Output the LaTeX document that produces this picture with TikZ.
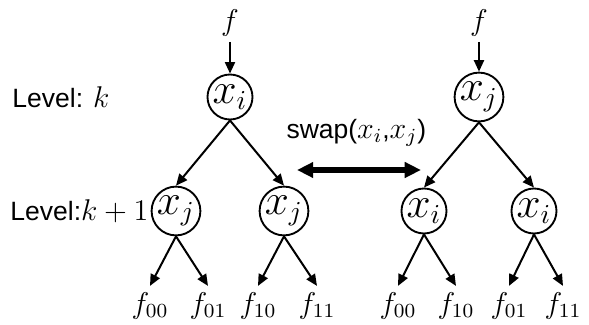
\documentclass[tikz,border=0pt]{standalone}
\usepackage{fontspec}
\setsansfont{Liberation Sans}
\usetikzlibrary{arrows.meta}
\tikzset{
  >={Triangle[length=4.6pt,width=4pt]},
  var/.style={circle,draw,line width=0.75pt,minimum size=18pt,inner sep=0pt,font=\fontsize{16}{19}\selectfont},
  top/.style={inner sep=2pt,font=\large},
  leaf/.style={inner sep=2.5pt,font=\large},
  edge/.style={->,line width=0.8pt},
  lvl/.style={font=\sffamily\fontsize{10.6}{13}\selectfont,anchor=west,inner sep=0pt},
  swaparrow/.style={{Triangle[length=6.5pt,width=6pt]}-{Triangle[length=6.5pt,width=6pt]},line width=2.4pt},
}

\begin{document}
\begin{tikzpicture}[x=0.4pt,y=-0.4pt]
  \useasboundingbox (0,0) rectangle (589,325);
  % levels
  \node[lvl] (lvk) at (12,97) {Level: {\large$k$}};
  \node[lvl] (lvk1) at (10,211) {Level:{\large$k+1$}};
  % left tree
  \begin{scope}[shift={(230,97)}]
    \node[top] (lf) at (0,-74) {$f$};
    \node[var] (lroot) at (0,0) {$x_i$};
    \node[var] (lc1) at (-54,114) {$x_j$};
    \node[var] (lc2) at (54,114) {$x_j$};
    \draw[edge] (lf) -- (lroot);
    \draw[edge] (lroot.south) -- (lc1.north);
    \draw[edge] (lroot.south) -- (lc2.north);
    \foreach \lx/\lab/\up [count=\n] in {-80/00/lc1,-22/01/lc1,28/10/lc2,87/11/lc2}{
      \node[leaf] (lleaf\n) at (\lx,209) {$f_{\lab}$};
      \draw[edge] (\up.south) -- (lleaf\n.north);
    }
  \end{scope}
  % swap
  \node[lvl] (swaptxt) at (286,133) {swap({\large$x_i$},{\large$x_j$})};
  \coordinate (swapl) at (297,170);
  \coordinate (swapr) at (421,170);
  \draw[swaparrow] (swapl) -- (swapr);
  % right tree
  \begin{scope}[shift={(479,97)}]
    \node[top] (rf) at (0,-74) {$f$};
    \node[var] (rroot) at (0,0) {$x_j$};
    \node[var] (rc1) at (-55,114) {$x_i$};
    \node[var] (rc2) at (55,114) {$x_i$};
    \draw[edge] (rf) -- (rroot);
    \draw[edge] (rroot.south) -- (rc1.north);
    \draw[edge] (rroot.south) -- (rc2.north);
    \foreach \lx/\lab/\up [count=\n] in {-81/00/rc1,-23/10/rc1,30/01/rc2,84/11/rc2}{
      \node[leaf] (rleaf\n) at (\lx,209) {$f_{\lab}$};
      \draw[edge] (\up.south) -- (rleaf\n.north);
    }
  \end{scope}
\end{tikzpicture}
\end{document}
